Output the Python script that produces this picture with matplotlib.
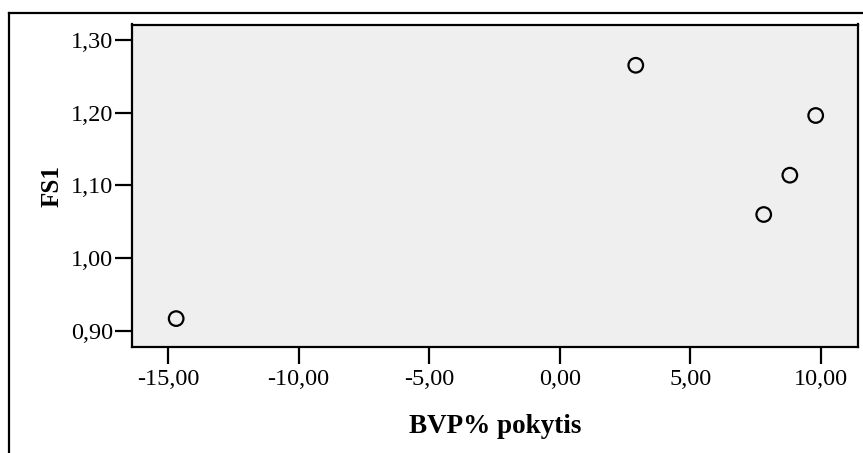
import matplotlib
matplotlib.use("Agg")
import matplotlib.pyplot as plt
from matplotlib.lines import Line2D
from matplotlib.ticker import FuncFormatter

# BVP% change vs FS1 values
bvp_change = [-14.69, 2.91, 9.80, 8.81, 7.81]
fs1 = [0.917, 1.265, 1.196, 1.114, 1.060]

x_ticks = [-15, -10, -5, 0, 5, 10]
y_ticks = [0.90, 1.00, 1.10, 1.20, 1.30]

plt.rcParams["font.family"] = ["Liberation Serif", "DejaVu Serif"]

W, H = 863, 453
fig = plt.figure(figsize=(W / 100, H / 100), dpi=100)
fig.patch.set_facecolor("white")

left, right, top, bottom = 131.5, 858, 24.5, 347
ax = fig.add_axes([left / W, 1 - bottom / H, (right - left) / W, (bottom - top) / H])
ax.set_facecolor("#efefef")

ax.scatter(bvp_change, fs1, s=110, facecolors="none", edgecolors="black",
           linewidths=1.6, zorder=3)

ax.set_xlim(-16.40, 11.42)
ax.set_ylim(0.878, 1.321)
ax.set_xticks(x_ticks)
ax.set_yticks(y_ticks)
comma_fmt = FuncFormatter(lambda v, p: f"{v:.2f}".replace(".", ","))
ax.xaxis.set_major_formatter(comma_fmt)
ax.yaxis.set_major_formatter(comma_fmt)

for s in ax.spines.values():
    s.set_linewidth(1.6)
ax.tick_params(axis="both", direction="out", length=12.5, width=1.6,
               labelsize=17.5, colors="black")
ax.tick_params(axis="y", pad=1)
ax.tick_params(axis="x", pad=3.5)

ax.set_xlabel("BVP% pokytis", fontsize=19.5, fontweight="bold", labelpad=17)
ax.set_ylabel("FS1", fontsize=18, fontweight="bold", labelpad=5)

# outer frame lines (left and top)
fig.add_artist(Line2D([9 / W, 9 / W], [0, 1 - 12.5 / H], color="black",
                      linewidth=1.6, transform=fig.transFigure))
fig.add_artist(Line2D([9 / W, 1], [1 - 12.5 / H, 1 - 12.5 / H], color="black",
                      linewidth=1.6, transform=fig.transFigure))

fig.savefig("out.png", dpi=100)
